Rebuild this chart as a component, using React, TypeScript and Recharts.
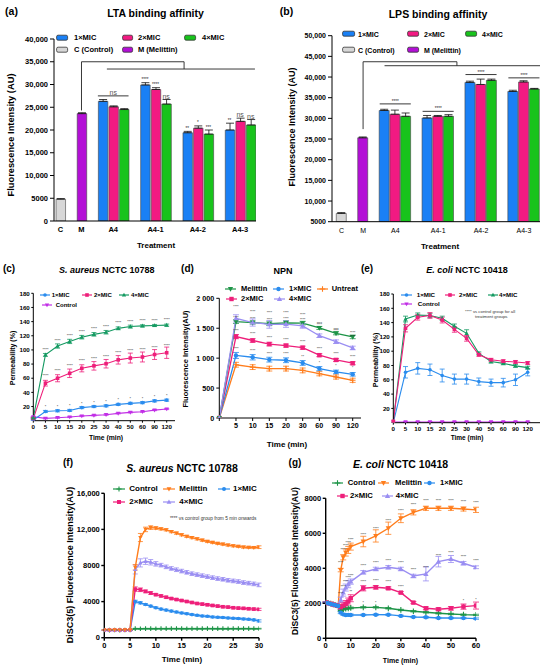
import React from 'react';
import {
  ComposedChart,
  LineChart,
  Bar,
  Line,
  XAxis,
  YAxis,
  ErrorBar,
  Cell,
  ReferenceLine,
  ReferenceDot,
  LabelList,
} from 'recharts';

const FONT = '"Liberation Sans", Arial, Helvetica, sans-serif';

// ---------- (a) LTA / (b) LPS binding affinity ----------
const groups = ['A4', 'A4-1', 'A4-2', 'A4-3'];

const ltaControl = 4800;
const ltaControlErr = 120;
const ltaMelittin = 23600;
const ltaMelittinErr = 200;
const ltaMic1 = [26300, 29900, 19400, 20000];
const ltaMic2 = [25100, 28900, 20400, 21900];
const ltaMic4 = [24500, 25700, 19100, 21100];
const ltaMic1Err = [400, 500, 300, 1500];
const ltaMic2Err = [200, 400, 500, 700];
const ltaMic4Err = [200, 1000, 900, 1200];
const ltaSig1 = ['', '****', '**', '**'];
const ltaSig2 = ['', '****', '*', 'ns'];
const ltaSig4 = ['', 'ns', '***', 'ns'];
const ltaGroupSig = ['ns', '', '', ''];
const ltaGroupLine = [27500, null, null, null];
const ltaTicks = [0, 5000, 10000, 15000, 20000, 25000, 30000, 35000, 40000];

const lpsControl = 7000;
const lpsControlErr = 200;
const lpsMelittin = 25300;
const lpsMelittinErr = 200;
const lpsMic1 = [31900, 30100, 38700, 36500];
const lpsMic2 = [31000, 30500, 38200, 38800];
const lpsMic4 = [30500, 30500, 39200, 37100];
const lpsMic1Err = [300, 600, 300, 300];
const lpsMic2Err = [1000, 200, 1300, 300];
const lpsMic4Err = [800, 400, 300, 150];
const lpsSig = ['', '', '', ''];
const lpsGroupSig = ['****', '****', '****', '****'];
const lpsGroupLine = [33500, 31700, 40600, 39800];
const lpsTicks = [5000, 10000, 15000, 20000, 25000, 30000, 35000, 40000, 45000, 50000];

// ---------- (c) / (e) permeability ----------
const permTimes = ['0', '5', '10', '15', '20', '25', '30', '40', '50', '60', '90', '120'];
const permTicks = [20, 40, 60, 80, 100, 120, 140, 160, 180];

const saMic1 = [1, 13, 14, 14.5, 18.5, 20, 21, 23, 24.5, 25.5, 28, 29];
const saMic2 = [3, 53, 60, 67, 74, 77.5, 80.5, 86, 88.5, 90, 93.5, 96];
const saMic4 = [4, 93, 105.5, 112, 118, 122, 125, 130.5, 133, 134, 134.5, 135];
const saControl = [5.5, 3.3, 4.2, 5.2, 6.6, 7.5, 8.5, 10.4, 11.8, 12.7, 15, 16.5];
const saMic1Err = [0.5, 1.5, 1.5, 1.5, 1.5, 1.5, 1.5, 1.5, 1.5, 1.5, 1.5, 1.5];
const saMic2Err = [0.5, 4, 5, 6, 5, 6, 6, 6, 7, 7, 7, 8];
const saMic4Err = [0.5, 2, 3, 3, 2.5, 2.5, 2.5, 2, 2, 1.5, 1.5, 1.5];
const saControlErr = [0.5, 0.8, 0.8, 0.8, 0.8, 0.8, 0.8, 0.8, 0.8, 0.8, 0.8, 0.8];
const saSig1 = ['', '*', '*', '*', '*', '*', '*', '*', '*', '*', '*', '*'];
const saSig4 = ['', '****', '****', '****', '****', '****', '****', '****', '****', '****', '****', '****'];

const ecMic1 = [0, 70.5, 76, 74, 66, 61, 61, 57.5, 56, 56, 60, 70.5];
const ecMic2 = [2, 132, 147.5, 150, 143.5, 130.5, 118, 95, 88, 86, 85, 83.5];
const ecMic4 = [2, 145, 150.5, 150, 146, 135, 125, 97, 85.5, 83, 79.5, 77];
const ecControl = [1, 1, 1, 1, 1, 1, 1, 1, 1, 1.2, 1.2, 1];
const ecMic1Err = [0, 8, 8, 8, 9, 7, 7, 5, 5, 6, 8, 5];
const ecMic2Err = [0, 5, 4, 4, 4, 4, 4, 2, 2, 2, 2, 2];
const ecMic4Err = [0, 4, 3, 3, 3, 3, 5, 2, 2, 2, 2, 2];
const ecControlErr = [0, 0.5, 0.5, 0.5, 0.5, 0.5, 0.5, 0.5, 0.5, 0.5, 0.5, 0.5];

// ---------- (d) NPN ----------
const npnTimes = ['0', '5', '10', '15', '20', '30', '60', '90', '120'];
const npnTicks = [0, 500, 1000, 1500, 2000];
const npnMelittin = [0, 1610, 1595, 1575, 1590, 1585, 1505, 1415, 1355];
const npnMic1 = [0, 1045, 1015, 975, 965, 920, 825, 770, 730];
const npnUntreat = [0, 890, 850, 825, 825, 795, 740, 685, 630];
const npnMic2 = [0, 1360, 1295, 1235, 1210, 1175, 1050, 970, 915];
const npnMic4 = [0, 1665, 1595, 1565, 1570, 1540, 1375, 1275, 1170];
const npnMelittinErr = [0, 30, 25, 30, 30, 30, 25, 25, 30];
const npnMic1Err = [0, 50, 45, 40, 40, 40, 35, 30, 30];
const npnUntreatErr = [0, 40, 40, 40, 40, 40, 35, 35, 35];
const npnMic2Err = [0, 35, 30, 30, 25, 25, 25, 25, 25];
const npnMic4Err = [0, 60, 60, 65, 55, 40, 30, 30, 30];
const npnSigAll = ['', '****', '****', '****', '****', '****', '****', '****', '****'];
const npnSig1 = ['', '****', '****', '****', '****', '**', '*', '*', '*'];

// ---------- (f) DiSC3(5) S. aureus ----------
const fTimes = [0, 1, 2, 3, 4, 5, 6, 7, 8, 9, 10, 11, 12, 13, 14, 15, 16, 17, 18, 19, 20, 21, 22, 23, 24, 25, 26, 27, 28, 29, 30];
const fTicksX = [0, 5, 10, 15, 20, 25, 30];
const fTicksY = [0, 4000, 8000, 12000, 16000];
const fControl = [850, 845, 850, 840, 850, 855, 1000, 990, 1000, 1000, 995, 1000, 1000, 1005, 1000, 1000, 995, 1000, 1000, 1000, 1005, 1000, 1000, 1000, 995, 1000, 1000, 1005, 1000, 1000, 1000];
const fMelittin = [860, 850, 855, 850, 860, 870, 7800, 11100, 12000, 12200, 12150, 12050, 11950, 11750, 11580, 11400, 11220, 11090, 10950, 10800, 10660, 10550, 10440, 10360, 10260, 10180, 10110, 10040, 10000, 9990, 10030];
const fMic1 = [830, 840, 835, 840, 845, 850, 4000, 3860, 3680, 3500, 3320, 3170, 3060, 2950, 2840, 2740, 2660, 2560, 2480, 2410, 2370, 2300, 2260, 2230, 2190, 2150, 2120, 2080, 2040, 1970, 1860];
const fMic2 = [840, 835, 845, 840, 850, 860, 5380, 5310, 5130, 4950, 4770, 4630, 4480, 4340, 4230, 4120, 4010, 3900, 3790, 3720, 3650, 3570, 3500, 3430, 3390, 3320, 3280, 3250, 3210, 3170, 3140];
const fMic4 = [845, 850, 840, 845, 855, 865, 7560, 8290, 8470, 8360, 8180, 8040, 7850, 7670, 7530, 7380, 7240, 7090, 6980, 6870, 6760, 6650, 6550, 6470, 6360, 6290, 6220, 6110, 6040, 5960, 5850];
const fControlErr = [20, 20, 20, 20, 20, 20, 40, 40, 40, 40, 40, 40, 40, 40, 40, 40, 40, 40, 40, 40, 40, 40, 40, 40, 40, 40, 40, 40, 40, 40, 40];
const fMelittinErr = [20, 20, 20, 20, 20, 20, 300, 450, 250, 200, 150, 120, 120, 120, 120, 120, 120, 120, 120, 120, 120, 120, 120, 120, 120, 120, 120, 120, 120, 120, 150];
const fMic1Err = [20, 20, 20, 20, 20, 20, 150, 120, 100, 100, 100, 100, 100, 100, 100, 100, 100, 100, 100, 100, 100, 100, 100, 100, 100, 100, 100, 100, 100, 100, 120];
const fMic2Err = [20, 20, 20, 20, 20, 20, 250, 200, 150, 150, 120, 120, 120, 120, 120, 120, 120, 120, 120, 120, 120, 120, 120, 120, 120, 120, 120, 120, 120, 120, 120];
const fMic4Err = [20, 20, 20, 20, 20, 20, 500, 450, 350, 300, 250, 200, 200, 200, 200, 200, 200, 200, 200, 200, 200, 200, 200, 200, 200, 200, 200, 200, 200, 200, 200];

// ---------- (g) DiSC3(5) E. coli ----------
const gTimes = [0, 1, 2, 3, 4, 5, 6, 7, 8, 9, 10, 15, 20, 25, 30, 35, 40, 45, 50, 55, 60];
const gTicksX = [0, 10, 20, 30, 40, 50, 60];
const gTicksY = [0, 2000, 4000, 6000, 8000];
const gControl = [2060, 2020, 1980, 1940, 1900, 1860, 1580, 1660, 1700, 1715, 1735, 1770, 1770, 1715, 1620, 1545, 1485, 1430, 1390, 1350, 1335];
const gMelittin = [2050, 2010, 1975, 1935, 1895, 1855, 3900, 4630, 4900, 5050, 5240, 5530, 5850, 6290, 6860, 7200, 7430, 7430, 7430, 7390, 7340];
const gMic1 = [2040, 2000, 1960, 1925, 1885, 1850, 1470, 1370, 1335, 1340, 1335, 1335, 1350, 1350, 1280, 1220, 1200, 1160, 1160, 1155, 1125];
const gMic2 = [2050, 2010, 1970, 1930, 1890, 1850, 1780, 1870, 1960, 2100, 2290, 2860, 2915, 2860, 2610, 2040, 1715, 1660, 1715, 1810, 1870];
const gMic4 = [2055, 2015, 1975, 1935, 1895, 1855, 2200, 2610, 2900, 3090, 3240, 3770, 3960, 4060, 3960, 3560, 3680, 4380, 4530, 4290, 4060];
const gControlErr = [30, 30, 30, 30, 30, 30, 60, 50, 50, 50, 50, 40, 40, 40, 40, 40, 40, 40, 40, 40, 40];
const gMelittinErr = [30, 30, 30, 30, 30, 30, 100, 150, 200, 200, 200, 300, 350, 350, 250, 150, 120, 120, 120, 120, 150];
const gMic1Err = [30, 30, 30, 30, 30, 30, 60, 50, 50, 50, 50, 40, 40, 40, 40, 40, 40, 40, 40, 40, 40];
const gMic2Err = [30, 30, 30, 30, 30, 30, 150, 200, 200, 200, 200, 150, 100, 80, 60, 60, 80, 80, 100, 150, 200];
const gMic4Err = [30, 30, 30, 30, 30, 30, 150, 200, 200, 200, 150, 100, 100, 100, 100, 100, 400, 300, 200, 100, 80];
const gSigLate = ['', '', '', '', '', '', '****', '****', '****', '****', '****', '****', '****', '****', '****', '****', '****', '****', '****', '****', '****'];
const gSig2 = ['', '', '', '', '', '', '', '', '', '', '**', '****', '****', '****', '****', '', '', '', '', '*', '*'];
const gSigCtrl = ['', '', '', '', '', '', '', '', '', '', '', '*', '*', '', '', '', '', '', '', '', ''];

// ---------- colours ----------
const BAR_FILL = { mic1: '#1a80f5', mic2: '#f21a82', mic4: '#18c31c', control: '#d7d7d7', melittin: '#b30fd6' };
const L_BLUE = '#2a8cee';
const L_PINK = '#ee1f7a';
const L_TEAL = '#159a62';
const L_PURPLE = '#c12ee6';
const L_GREEN = '#1d9447';
const L_ORANGE = '#ff7d1c';
const L_LAVENDER = '#9a8ef2';

// ---------- helpers ----------
const fmtComma = (v: number) => (v >= 10000 ? v.toLocaleString('en-US') : String(v));
// non-breaking space so the tick text is not wrapped
const fmtSpace = (v: number) => (v >= 1000 ? `${Math.floor(v / 1000)}\u00A0${String(v % 1000).padStart(3, '0')}` : String(v));

function frame(b: any, p: any) {
  return {
    width: b.right - b.left,
    height: b.bottom - b.top,
    margin: { top: p.y0 - b.top, right: b.right - p.x1, bottom: 0, left: 0 },
    yW: p.x0 - b.left,
    xh: b.bottom - p.y1,
  };
}

function mark(shape: string, cx: number, cy: number, s: number, color: string, key?: any) {
  switch (shape) {
    case 'square':
      return <rect key={key} x={cx - s} y={cy - s} width={2 * s} height={2 * s} fill={color} />;
    case 'up':
      return <path key={key} d={`M${cx} ${cy - 1.3 * s}L${cx + 1.2 * s} ${cy + 0.9 * s}L${cx - 1.2 * s} ${cy + 0.9 * s}Z`} fill={color} />;
    case 'down':
      return <path key={key} d={`M${cx} ${cy + 1.3 * s}L${cx + 1.2 * s} ${cy - 0.9 * s}L${cx - 1.2 * s} ${cy - 0.9 * s}Z`} fill={color} />;
    case 'plus':
      return <path key={key} d={`M${cx - 1.3 * s} ${cy}H${cx + 1.3 * s}M${cx} ${cy - 1.3 * s}V${cy + 1.3 * s}`} stroke={color} strokeWidth={1.1} fill="none" />;
    default:
      return <circle key={key} cx={cx} cy={cy} r={s} fill={color} />;
  }
}

function Txt({ x, y, size, children, bold = true, anchor = 'middle', rotate = false, color = '#000' }: any) {
  const tx = anchor === 'middle' ? '-50%' : anchor === 'end' ? '-100%' : '0';
  return (
    <div
      style={{
        position: 'absolute',
        left: x,
        top: y,
        fontSize: size,
        fontWeight: bold ? 700 : 400,
        color,
        whiteSpace: 'nowrap',
        lineHeight: 1,
        transform: `translate(${tx}, -50%)${rotate ? ' rotate(-90deg)' : ''}`,
      }}
    >
      {children}
    </div>
  );
}

function LineKey({ x, y, w, color, shape, ms, label, tx, size }: any) {
  return (
    <>
      <svg style={{ position: 'absolute', left: x - w / 2, top: y - 4 }} width={w} height={8}>
        <line x1={0} y1={4} x2={w} y2={4} stroke={color} strokeWidth={1.2} />
        {mark(shape, w / 2, 4, ms, color)}
      </svg>
      <Txt x={tx} y={y} size={size} anchor="start">{label}</Txt>
    </>
  );
}

function BarKey({ x0, x1, y, fill, label, tx, size }: any) {
  return (
    <>
      <svg style={{ position: 'absolute', left: x0 - 1, top: y - 4 }} width={x1 - x0 + 2} height={8}>
        <rect x={0.6} y={1.2} width={x1 - x0} height={5} rx={1.5} fill={fill} stroke="#333" strokeWidth={0.8} />
      </svg>
      <Txt x={tx} y={y} size={size} anchor="start">{label}</Txt>
    </>
  );
}

function buildBars(ctrl: number, ctrlErr: number, mel: number, melErr: number, mics: number[][], errs: number[][]) {
  const fills = [BAR_FILL.mic1, BAR_FILL.mic2, BAR_FILL.mic4];
  const rows: any[] = [
    { pos: 0, value: ctrl, err: [0, ctrlErr], fill: BAR_FILL.control },
    { pos: 2, value: mel, err: [0, melErr], fill: BAR_FILL.melittin },
  ];
  groups.forEach((g, gi) => {
    mics.forEach((vals, k) => {
      rows.push({ pos: 4 + gi * 4 + k, value: vals[gi], err: [0, errs[k][gi]], fill: fills[k] });
    });
  });
  return rows;
}

function BarPanel({ box, plot, xDomain, yDomain, yTicks, rows, sigs, groupSig, groupLine, bracket, barSize, tickFs, xTickBold }: any) {
  const f = frame(box, plot);
  const labels: any = { 0: 'C', 2: 'M' };
  groups.forEach((g, i) => (labels[5 + 4 * i] = g));
  const notes: any[] = [];
  groups.forEach((g, gi) => {
    sigs.forEach((s: string[], k: number) => {
      const r = rows.find((row: any) => row.pos === 4 + gi * 4 + k);
      if (s[gi]) {
        const ns = s[gi] === 'ns';
        notes.push({ pos: r.pos, y: r.value + r.err[1], text: s[gi], size: ns ? 7 : 4.5, color: ns ? '#555' : '#222', off: ns ? 1 : 1.5 });
      }
    });
    if (groupLine[gi] != null) {
      notes.push({ pos: 5 + gi * 4, y: groupLine[gi], text: groupSig[gi], size: groupSig[gi] === 'ns' ? 7 : 4.5, color: groupSig[gi] === 'ns' ? '#555' : '#222', off: 1 });
    }
  });
  const segs: any[] = [
    [{ x: 2, y: bracket.from }, { x: 2, y: bracket.top }],
    [{ x: 2, y: bracket.top }, { x: bracket.join, y: bracket.top }],
    [{ x: bracket.join, y: bracket.top }, { x: bracket.join, y: bracket.low }],
    [{ x: bracket.lowFrom, y: bracket.low }, { x: bracket.lowTo, y: bracket.low }],
  ];
  groups.forEach((g, gi) => {
    if (groupLine[gi] != null) {
      segs.push([{ x: 4 + gi * 4 - 0.45, y: groupLine[gi] }, { x: 6 + gi * 4 + 0.45, y: groupLine[gi] }]);
    }
  });
  return (
    <div style={{ position: 'absolute', left: box.left, top: box.top }}>
      <ComposedChart width={f.width} height={f.height} margin={f.margin} data={rows}>
        <XAxis
          dataKey="pos"
          type="number"
          domain={xDomain}
          ticks={rows.map((r: any) => r.pos)}
          interval={0}
          allowDataOverflow
          tickFormatter={(v: number) => labels[v] ?? ''}
          tickLine={false}
          tickSize={4}
          tickMargin={2}
          height={f.xh}
          axisLine={{ stroke: '#000', strokeWidth: 1 }}
          tick={{ fontSize: tickFs, fontWeight: xTickBold ? 700 : 400, fill: '#000' }}
        />
        <YAxis
          type="number"
          domain={yDomain}
          ticks={yTicks}
          interval={0}
          allowDataOverflow
          width={f.yW}
          tickFormatter={fmtComma}
          tickSize={4}
          tickMargin={2}
          axisLine={{ stroke: '#000', strokeWidth: 1 }}
          tickLine={{ stroke: '#000' }}
          tick={{ fontSize: tickFs, fontWeight: 700, fill: '#000' }}
        />
        <Bar dataKey="value" barSize={barSize} stroke="#444" strokeWidth={0.6} isAnimationActive={false}>
          {rows.map((r: any) => (
            <Cell key={r.pos} fill={r.fill} />
          ))}
          <ErrorBar dataKey="err" width={4} stroke="#111" strokeWidth={0.8} />
        </Bar>
        {segs.map((s, i) => (
          <ReferenceLine key={`s${i}`} segment={s} stroke="#222" strokeWidth={0.9} ifOverflow="visible" />
        ))}
        {notes.map((n, i) => (
          <ReferenceDot
            key={`n${i}`}
            x={n.pos}
            y={n.y}
            r={0}
            fill="none"
            stroke="none"
            ifOverflow="visible"
            label={{ value: n.text, position: 'top', offset: n.off, fontSize: n.size, fill: n.color }}
          />
        ))}
      </ComposedChart>
    </div>
  );
}

function LinePanel({ box, plot, xs, numeric, xDomain, xTicks, padRight = 0, yDomain, yTicks, yFmt, xFmt, series, fs, ms, lw, axisW = 1, tickSize = 3, tickMargin = 2, capW = 3, sigFs = 4 }: any) {
  const f = frame(box, plot);
  const rows = xs.map((t: any, i: number) => {
    const r: any = { t };
    series.forEach((s: any) => {
      r[s.key] = s.values[i];
      r[`${s.key}E`] = s.errs[i];
      if (s.sig) r[`${s.key}S`] = s.sig[i];
    });
    return r;
  });
  return (
    <div style={{ position: 'absolute', left: box.left, top: box.top }}>
      <LineChart width={f.width} height={f.height} margin={f.margin} data={rows}>
        <XAxis
          dataKey="t"
          type={numeric ? 'number' : 'category'}
          domain={numeric ? xDomain : undefined}
          ticks={numeric ? xTicks : undefined}
          allowDataOverflow={numeric ? true : undefined}
          interval={0}
          padding={{ left: 0, right: padRight }}
          tickFormatter={xFmt}
          height={f.xh}
          tickSize={tickSize}
          tickMargin={tickMargin}
          axisLine={{ stroke: '#000', strokeWidth: axisW }}
          tickLine={{ stroke: '#000', strokeWidth: axisW }}
          tick={{ fontSize: fs, fontWeight: 700, fill: '#000' }}
        />
        <YAxis
          type="number"
          domain={yDomain}
          ticks={yTicks}
          interval={0}
          allowDataOverflow
          width={f.yW}
          tickFormatter={yFmt}
          tickSize={tickSize}
          tickMargin={tickMargin}
          axisLine={{ stroke: '#000', strokeWidth: axisW }}
          tickLine={{ stroke: '#000', strokeWidth: axisW }}
          tick={{ fontSize: fs, fontWeight: 700, fill: '#000' }}
        />
        {series.map((s: any) => (
          <Line
            key={s.key}
            dataKey={s.key}
            stroke={s.color}
            strokeWidth={lw}
            isAnimationActive={false}
            activeDot={false}
            dot={(p: any) =>
              p.cx == null || p.cy == null ? <g key={p.index} /> : mark(s.shape, p.cx, p.cy, ms, s.color, p.index)
            }
          >
            <ErrorBar dataKey={`${s.key}E`} width={capW} stroke={s.color} strokeWidth={0.8} />
            {s.sig && <LabelList dataKey={`${s.key}S`} position="top" offset={s.sigOff ?? 4} fontSize={sigFs} fill="#222" />}
          </Line>
        ))}
      </LineChart>
    </div>
  );
}

export default function App() {
  const ltaRows = buildBars(ltaControl, ltaControlErr, ltaMelittin, ltaMelittinErr, [ltaMic1, ltaMic2, ltaMic4], [ltaMic1Err, ltaMic2Err, ltaMic4Err]);
  const lpsRows = buildBars(lpsControl, lpsControlErr, lpsMelittin, lpsMelittinErr, [lpsMic1, lpsMic2, lpsMic4], [lpsMic1Err, lpsMic2Err, lpsMic4Err]);

  const saSeries = [
    { key: 'ctrl', values: saControl, errs: saControlErr, color: L_PURPLE, shape: 'down' },
    { key: 'm1', values: saMic1, errs: saMic1Err, color: L_BLUE, shape: 'circle', sig: saSig1, sigOff: 3 },
    { key: 'm2', values: saMic2, errs: saMic2Err, color: L_PINK, shape: 'square', sig: saSig4, sigOff: 6 },
    { key: 'm4', values: saMic4, errs: saMic4Err, color: L_TEAL, shape: 'up', sig: saSig4, sigOff: 4 },
  ];
  const ecSeries = [
    { key: 'ctrl', values: ecControl, errs: ecControlErr, color: L_PURPLE, shape: 'down' },
    { key: 'm1', values: ecMic1, errs: ecMic1Err, color: L_BLUE, shape: 'circle' },
    { key: 'm4', values: ecMic4, errs: ecMic4Err, color: L_TEAL, shape: 'up' },
    { key: 'm2', values: ecMic2, errs: ecMic2Err, color: L_PINK, shape: 'square' },
  ];
  const npnSeries = [
    { key: 'un', values: npnUntreat, errs: npnUntreatErr, color: L_ORANGE, shape: 'plus' },
    { key: 'm1', values: npnMic1, errs: npnMic1Err, color: L_BLUE, shape: 'circle', sig: npnSig1, sigOff: 5 },
    { key: 'm2', values: npnMic2, errs: npnMic2Err, color: L_PINK, shape: 'square', sig: npnSigAll, sigOff: 5 },
    { key: 'mel', values: npnMelittin, errs: npnMelittinErr, color: L_GREEN, shape: 'down', sig: npnSigAll, sigOff: 2.5 },
    { key: 'm4', values: npnMic4, errs: npnMic4Err, color: L_LAVENDER, shape: 'up', sig: npnSigAll, sigOff: 10 },
  ];
  const fSeries = [
    { key: 'ctrl', values: fControl, errs: fControlErr, color: L_GREEN, shape: 'plus' },
    { key: 'm1', values: fMic1, errs: fMic1Err, color: L_BLUE, shape: 'circle' },
    { key: 'm2', values: fMic2, errs: fMic2Err, color: L_PINK, shape: 'square' },
    { key: 'm4', values: fMic4, errs: fMic4Err, color: L_LAVENDER, shape: 'up' },
    { key: 'mel', values: fMelittin, errs: fMelittinErr, color: L_ORANGE, shape: 'down' },
  ];
  const gSeries = [
    { key: 'ctrl', values: gControl, errs: gControlErr, color: L_GREEN, shape: 'plus', sig: gSigCtrl, sigOff: 3 },
    { key: 'mel', values: gMelittin, errs: gMelittinErr, color: L_ORANGE, shape: 'down', sig: gSigLate, sigOff: 6 },
    { key: 'm4', values: gMic4, errs: gMic4Err, color: L_LAVENDER, shape: 'up', sig: gSigLate, sigOff: 5 },
    { key: 'm2', values: gMic2, errs: gMic2Err, color: L_PINK, shape: 'square', sig: gSig2, sigOff: 5 },
    { key: 'm1', values: gMic1, errs: gMic1Err, color: L_BLUE, shape: 'circle' },
  ];

  return (
    <div style={{ position: 'absolute', left: 0, top: 0, width: 550, height: 668, background: '#fff', fontFamily: FONT, overflow: 'hidden' }}>
      <BarPanel
        box={{ left: 0, top: 25, right: 262, bottom: 240 }}
        plot={{ x0: 54, x1: 256, y0: 39, y1: 221 }}
        xDomain={[-0.6, 18.5]}
        yDomain={[0, 40000]}
        yTicks={ltaTicks}
        rows={ltaRows}
        sigs={[ltaSig1, ltaSig2, ltaSig4]}
        groupSig={ltaGroupSig}
        groupLine={ltaGroupLine}
        bracket={{ from: 24300, top: 35000, join: 11.7, low: 33400, lowFrom: 4.4, lowTo: 18.4 }}
        barSize={9.5}
        tickFs={7.5}
        xTickBold
      />
      <BarPanel
        box={{ left: 276, top: 22, right: 548, bottom: 240 }}
        plot={{ x0: 332, x1: 540, y0: 35.7, y1: 221.7 }}
        xDomain={[-0.9, 18.5]}
        yDomain={[5000, 50000]}
        yTicks={lpsTicks}
        rows={lpsRows}
        sigs={[lpsSig, lpsSig, lpsSig]}
        groupSig={lpsGroupSig}
        groupLine={lpsGroupLine}
        bracket={{ from: 27400, top: 43700, join: 10.75, low: 42740, lowFrom: 4.0, lowTo: 18.5 }}
        barSize={10}
        tickFs={7}
        xTickBold={false}
      />
      <LinePanel
        box={{ left: 0, top: 285, right: 180, bottom: 435 }}
        plot={{ x0: 33.3, x1: 175, y0: 293.3, y1: 420.7 }}
        xs={permTimes}
        padRight={8.3}
        yDomain={[0, 180]}
        yTicks={permTicks}
        series={saSeries}
        fs={6.2}
        ms={1.8}
        lw={1.1}
        tickSize={2}
        tickMargin={1.5}
        capW={2.5}
        sigFs={3.8}
      />
      <LinePanel
        box={{ left: 190, top: 290, right: 365, bottom: 435 }}
        plot={{ x0: 219.3, x1: 361, y0: 298.3, y1: 418 }}
        xs={npnTimes}
        padRight={8.3}
        xFmt={(v: string) => (v === '0' ? '' : v)}
        yDomain={[0, 2000]}
        yTicks={npnTicks}
        yFmt={fmtSpace}
        series={npnSeries}
        fs={7.2}
        ms={2.2}
        lw={1.3}
        tickSize={3}
        tickMargin={2}
        capW={3}
        sigFs={3.4}
      />
      <LinePanel
        box={{ left: 370, top: 285, right: 548, bottom: 435 }}
        plot={{ x0: 393.3, x1: 540, y0: 294, y1: 422.7 }}
        xs={permTimes}
        padRight={12.3}
        yDomain={[0, 180]}
        yTicks={permTicks}
        series={ecSeries}
        fs={6.2}
        ms={1.8}
        lw={1.1}
        tickSize={2}
        tickMargin={1.5}
        capW={2.5}
      />
      <LinePanel
        box={{ left: 75, top: 485, right: 268, bottom: 655 }}
        plot={{ x0: 104.3, x1: 259, y0: 493.3, y1: 637.7 }}
        xs={fTimes}
        numeric
        xDomain={[0, 30]}
        xTicks={fTicksX}
        yDomain={[0, 16000]}
        yTicks={fTicksY}
        yFmt={fmtComma}
        series={fSeries}
        fs={7.5}
        ms={1.8}
        lw={1.4}
        axisW={1.4}
        tickSize={3}
        tickMargin={1.5}
        capW={2.5}
      />
      <LinePanel
        box={{ left: 300, top: 490, right: 485, bottom: 655 }}
        plot={{ x0: 325.7, x1: 476, y0: 498.3, y1: 638.3 }}
        xs={gTimes}
        numeric
        xDomain={[0, 60]}
        xTicks={gTicksX}
        yDomain={[0, 8000]}
        yTicks={gTicksY}
        series={gSeries}
        fs={7.5}
        ms={2.2}
        lw={1.4}
        axisW={1.4}
        tickSize={3}
        tickMargin={1.5}
        capW={3}
        sigFs={3.5}
      />

      {/* panel letters and titles */}
      <Txt x={11.5} y={11} size={10.5}>(a)</Txt>
      <Txt x={286.5} y={11} size={10.5}>(b)</Txt>
      <Txt x={9} y={269} size={10}>(c)</Txt>
      <Txt x={187.5} y={269} size={10}>(d)</Txt>
      <Txt x={367} y={269} size={10}>(e)</Txt>
      <Txt x={68} y={463} size={10}>(f)</Txt>
      <Txt x={295} y={463} size={10}>(g)</Txt>

      <Txt x={155.5} y={13} size={10.5}>LTA binding affinity</Txt>
      <Txt x={438} y={14} size={10.5}>LPS binding affinity</Txt>
      <Txt x={106.7} y={270} size={9}><i>S. aureus</i> NCTC 10788</Txt>
      <Txt x={283} y={270.7} size={9}>NPN</Txt>
      <Txt x={467} y={270} size={9}><i>E. coli</i> NCTC 10418</Txt>
      <Txt x={182} y={468} size={10.5}><i>S. aureus</i> NCTC 10788</Txt>
      <Txt x={400.5} y={464} size={10.5}><i>E. coli</i> NCTC 10418</Txt>

      {/* axis titles */}
      <Txt x={11.7} y={134.5} size={9.3} rotate>Fluorescence Intensity (AU)</Txt>
      <Txt x={156} y={245.7} size={8}>Treatment</Txt>
      <Txt x={292} y={127} size={9} rotate>Fluorescence Intensity (AU)</Txt>
      <Txt x={440} y={246.7} size={8}>Treatment</Txt>
      <Txt x={12} y={358} size={7} rotate>Permeability (%)</Txt>
      <Txt x={106} y={438.3} size={6.8}>Time (min)</Txt>
      <Txt x={186} y={359} size={7.5} rotate>Fluorescence Intensity(AU)</Txt>
      <Txt x={287} y={445} size={8}>Time (min)</Txt>
      <Txt x={375} y={360} size={7} rotate>Permeability (%)</Txt>
      <Txt x={467} y={438.3} size={6.5}>Time (min)</Txt>
      <Txt x={70} y={565} size={9} rotate>DiSC3(5) Fluorescence Intensity(AU)</Txt>
      <Txt x={182} y={660} size={8}>Time (min)</Txt>
      <Txt x={295} y={561} size={8.5} rotate>DiSC3(5) Fluorescence Intensity(AU)</Txt>
      <Txt x={400.5} y={660} size={7}>Time (min)</Txt>

      {/* notes */}
      <Txt x={465} y={311.7} size={4.3} bold={false} anchor="start" color="#333">**** vs control group for all</Txt>
      <Txt x={475} y={317.3} size={4.3} bold={false} anchor="start" color="#333">treatment groups</Txt>
      <Txt x={170} y={519} size={4.8} bold={false} anchor="start" color="#333">**** vs control group from 5 min onwards</Txt>

      {/* legends (a) */}
      <BarKey x0={57} x1={68} y={38.3} fill={BAR_FILL.mic1} label="1×MIC" tx={74} size={7.5} />
      <BarKey x0={123} x1={133} y={38.3} fill={BAR_FILL.mic2} label="2×MIC" tx={138} size={7.5} />
      <BarKey x0={185} x1={196} y={38.3} fill={BAR_FILL.mic4} label="4×MIC" tx={202} size={7.5} />
      <BarKey x0={57} x1={68} y={50} fill={BAR_FILL.control} label="C (Control)" tx={74} size={7.5} />
      <BarKey x0={123} x1={133} y={50} fill={BAR_FILL.melittin} label="M (Melittin)" tx={138} size={7.5} />
      {/* legends (b) */}
      <BarKey x0={343} x1={355} y={34} fill={BAR_FILL.mic1} label="1×MIC" tx={358} size={7} />
      <BarKey x0={408} x1={419} y={34} fill={BAR_FILL.mic2} label="2×MIC" tx={424} size={7} />
      <BarKey x0={466} x1={477} y={34} fill={BAR_FILL.mic4} label="4×MIC" tx={482} size={7} />
      <BarKey x0={343} x1={355} y={50} fill={BAR_FILL.control} label="C (Control)" tx={358} size={7} />
      <BarKey x0={408} x1={419} y={50} fill={BAR_FILL.melittin} label="M (Melittin)" tx={424} size={7} />

      {/* legend (c) */}
      <LineKey x={45} y={295} w={10} color={L_BLUE} shape="circle" ms={1.8} label="1×MIC" tx={51.7} size={6} />
      <LineKey x={86.7} y={295} w={10} color={L_PINK} shape="square" ms={1.8} label="2×MIC" tx={94} size={6} />
      <LineKey x={124} y={295} w={10} color={L_TEAL} shape="up" ms={1.8} label="4×MIC" tx={131} size={6} />
      <LineKey x={47} y={305} w={10} color={L_PURPLE} shape="down" ms={1.8} label="Control" tx={55.7} size={6} />
      {/* legend (d) */}
      <LineKey x={230} y={289.3} w={11} color={L_GREEN} shape="down" ms={2.2} label="Melittin" tx={241} size={7.5} />
      <LineKey x={278} y={289.3} w={11} color={L_BLUE} shape="circle" ms={2.2} label="1×MIC" tx={289} size={7.5} />
      <LineKey x={322} y={289.3} w={11} color={L_ORANGE} shape="plus" ms={2.2} label="Untreat" tx={331.7} size={7.5} />
      <LineKey x={231} y={299.3} w={11} color={L_PINK} shape="square" ms={2.2} label="2×MIC" tx={241} size={7.5} />
      <LineKey x={279} y={299.3} w={11} color={L_LAVENDER} shape="up" ms={2.2} label="4×MIC" tx={289} size={7.5} />
      {/* legend (e) */}
      <LineKey x={406} y={295} w={11} color={L_BLUE} shape="circle" ms={1.8} label="1×MIC" tx={416.7} size={6.2} />
      <LineKey x={450} y={295} w={10} color={L_PINK} shape="square" ms={1.8} label="2×MIC" tx={459} size={6.2} />
      <LineKey x={493} y={295} w={10} color={L_TEAL} shape="up" ms={1.8} label="4×MIC" tx={499} size={6.2} />
      <LineKey x={406} y={304.3} w={11} color={L_PURPLE} shape="down" ms={1.8} label="Control" tx={417.7} size={6.2} />
      {/* legend (f) */}
      <LineKey x={119} y={489.3} w={12} color={L_GREEN} shape="plus" ms={2} label="Control" tx={129.3} size={8} />
      <LineKey x={169} y={489.3} w={12} color={L_ORANGE} shape="down" ms={2} label="Melittin" tx={179.3} size={8} />
      <LineKey x={224} y={489.3} w={12} color={L_BLUE} shape="circle" ms={2} label="1×MIC" tx={233} size={8} />
      <LineKey x={119} y={502.3} w={12} color={L_PINK} shape="square" ms={2} label="2×MIC" tx={129.3} size={8} />
      <LineKey x={169} y={502.3} w={12} color={L_LAVENDER} shape="up" ms={2} label="4×MIC" tx={179.3} size={8} />
      {/* legend (g) */}
      <LineKey x={337} y={482.7} w={11} color={L_GREEN} shape="plus" ms={2.2} label="Control" tx={347.7} size={7.7} />
      <LineKey x={383} y={482.7} w={11} color={L_ORANGE} shape="down" ms={2.2} label="Melittin" tx={395} size={7.7} />
      <LineKey x={429} y={482.7} w={11} color={L_BLUE} shape="circle" ms={2.2} label="1×MIC" tx={440} size={7.7} />
      <LineKey x={342} y={495.7} w={11} color={L_PINK} shape="square" ms={2.2} label="2×MIC" tx={350} size={7.7} />
      <LineKey x={387} y={495.7} w={11} color={L_LAVENDER} shape="up" ms={2.2} label="4×MIC" tx={395.7} size={7.7} />
    </div>
  );
}
